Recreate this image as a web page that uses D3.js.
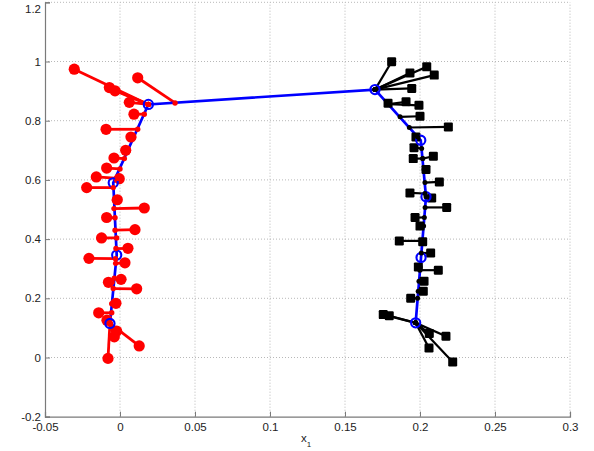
<!DOCTYPE html>
<html><head><meta charset="utf-8">
<script src="https://cdn.jsdelivr.net/npm/d3@7"></script>
<style>body{margin:0;background:#fff;}svg{display:block;}text{font-family:"Liberation Sans",Arial,sans-serif;}</style>
</head><body>
<script>
// Principal curve nodes (blue circles), path order
const nodeX = [-0.0067, -0.0022, -0.0045, 0.0189, 0.1700, 0.2005, 0.2040, 0.2007, 0.1971];
const nodeY = [ 0.115,   0.346,   0.590,  0.855,  0.905,  0.734,  0.543,  0.338,  0.117];

// Red class: data points and their projections on the curve
const redX = [-0.0305,-0.0071,-0.0033,0.0118,0.0062,0.0093,-0.0093,0.0073,0.0038,-0.0040,-0.0089,-0.0158,-0.0005,-0.0222,-0.0018,0.0162,-0.0089,0.0100,-0.0123,0.0053,-0.0207,0.0033,0.0007,-0.0077,0.0111,-0.0027,-0.0142,-0.0087,-0.0022,-0.0038,0.0128,-0.0080];
const redY = [0.974,0.912,0.901,0.945,0.862,0.822,0.771,0.745,0.700,0.674,0.640,0.610,0.604,0.574,0.533,0.505,0.473,0.432,0.404,0.369,0.335,0.320,0.264,0.254,0.232,0.183,0.151,0.126,0.089,0.070,0.039,-0.003];
const redProjX = [0.0189,0.0189,0.0189,0.0367,0.0189,0.0162,0.0118,0.0090,0.0055,0.0029,0.0000,-0.0013,-0.0013,-0.0045,-0.0037,-0.0040,-0.0033,-0.0033,-0.0022,-0.0027,-0.0030,-0.0029,-0.0038,-0.0053,-0.0045,-0.0055,-0.0055,-0.0067,-0.0067,-0.0067,-0.0067,-0.0067];
const redProjY = [0.855,0.855,0.855,0.860,0.855,0.822,0.771,0.743,0.698,0.672,0.637,0.605,0.605,0.574,0.531,0.503,0.472,0.430,0.404,0.368,0.334,0.318,0.268,0.254,0.233,0.182,0.151,0.115,0.115,0.115,0.115,0.115];

// Black class: data points and their projections on the curve
const blackX = [0.1811,0.1933,0.2045,0.2095,0.1945,0.1907,0.1993,0.1787,0.2000,0.2189,0.1973,0.1960,0.1955,0.2089,0.2040,0.2129,0.1933,0.2078,0.2178,0.1967,0.2000,0.1862,0.2018,0.2071,0.1989,0.2122,0.2027,0.2022,0.1938,0.1755,0.1795,0.2062,0.2173,0.2060,0.2218];
const blackY = [0.999,0.961,0.982,0.954,0.909,0.864,0.852,0.859,0.815,0.779,0.745,0.709,0.672,0.680,0.635,0.593,0.556,0.539,0.507,0.473,0.444,0.394,0.391,0.353,0.306,0.295,0.258,0.224,0.200,0.145,0.141,0.081,0.072,0.032,-0.015];
const blackProjX = [0.1700,0.1700,0.1700,0.1700,0.1700,0.1795,0.1795,0.1795,0.1867,0.1929,0.1985,0.2011,0.2018,0.2018,0.2027,0.2033,0.2033,0.2040,0.2034,0.2029,0.2024,0.2016,0.2016,0.2009,0.2001,0.1999,0.1993,0.1988,0.1984,0.1971,0.1971,0.1971,0.1971,0.1971,0.1971];
const blackProjY = [0.905,0.905,0.905,0.905,0.905,0.856,0.856,0.856,0.813,0.777,0.745,0.706,0.672,0.672,0.635,0.591,0.554,0.543,0.507,0.473,0.444,0.394,0.394,0.353,0.306,0.295,0.258,0.224,0.200,0.117,0.117,0.117,0.117,0.117,0.117];

const xTicks = [-0.05,0,0.05,0.1,0.15,0.2,0.25,0.3];
const xTickLabels = ["-0.05","0","0.05","0.1","0.15","0.2","0.25","0.3"];
const yTicks = [-0.2,0,0.2,0.4,0.6,0.8,1,1.2];
const yTickLabels = ["-0.2","0","0.2","0.4","0.6","0.8","1","1.2"];

const W = 594, H = 451;
const L = 45, R = 570, T = 2.3, B = 416.7;
const x = d3.scaleLinear().domain([-0.05,0.3]).range([L,R]);
const y = d3.scaleLinear().domain([-0.2,1.2]).range([B,T]);

const svg = d3.select("body").append("svg").attr("width",W).attr("height",H);

// grid
const g = svg.append("g");
g.selectAll(".gx").data(xTicks.slice(1)).join("line")
  .attr("x1",d=>x(d)).attr("x2",d=>x(d)).attr("y1",B).attr("y2",T)
  .attr("stroke","#b8b8b8").attr("stroke-width",1).attr("stroke-dasharray","1,2");
g.selectAll(".gy").data(yTicks.slice(1)).join("line")
  .attr("x1",L).attr("x2",R).attr("y1",d=>y(d)).attr("y2",d=>y(d))
  .attr("stroke","#b8b8b8").attr("stroke-width",1).attr("stroke-dasharray","1,2");

// axes
const xAxis = d3.axisBottom(x).tickValues(xTicks).tickSize(-5).tickPadding(6.5)
  .tickFormat((d,i)=>xTickLabels[i]);
const yAxis = d3.axisLeft(y).tickValues(yTicks).tickSize(-5).tickPadding(9)
  .tickFormat((d,i)=>yTickLabels[i]);
const ax = svg.append("g").attr("transform",`translate(0,${B})`).call(xAxis);
const ay = svg.append("g").attr("transform",`translate(${L},0)`).call(yAxis);
[ax,ay].forEach(a=>{
  a.select(".domain").attr("stroke","#7a7a7a").attr("stroke-width",1.2);
  a.selectAll(".tick line").attr("stroke","#7a7a7a");
  a.selectAll("text").attr("font-size",11.5).attr("fill","#222").attr("font-family","'Liberation Sans',Arial,sans-serif");
});
ay.selectAll("text").attr("x",-4);
// keep the top label inside the picture
ay.selectAll(".tick").filter(d=>d===1.2).select("text").attr("dy","0.9em");

// x label
const xl = svg.append("text").attr("x",301).attr("y",442).attr("font-size",11.5).attr("fill","#222");
xl.append("tspan").text("x");
xl.append("tspan").attr("font-size",8).attr("dy",5).text("1");

// connection lines
const plot = svg.append("g");
plot.selectAll(".rl").data(redX).join("line")
  .attr("x1",(d,i)=>x(redX[i])).attr("y1",(d,i)=>y(redY[i]))
  .attr("x2",(d,i)=>x(redProjX[i])).attr("y2",(d,i)=>y(redProjY[i]))
  .attr("stroke","#ff0000").attr("stroke-width",2.8);
plot.selectAll(".bl").data(blackX).join("line")
  .attr("x1",(d,i)=>x(blackX[i])).attr("y1",(d,i)=>y(blackY[i]))
  .attr("x2",(d,i)=>x(blackProjX[i])).attr("y2",(d,i)=>y(blackProjY[i]))
  .attr("stroke","#000").attr("stroke-width",2.2);

// curve
const line = d3.line().x(d=>x(d[0])).y(d=>y(d[1]));
plot.append("path").datum(nodeX.map((v,i)=>[v,nodeY[i]])).attr("d",line)
  .attr("fill","none").attr("stroke","#0000ff").attr("stroke-width",2.7);

// markers
plot.selectAll(".rm").data(redX).join("circle")
  .attr("cx",(d,i)=>x(redX[i])).attr("cy",(d,i)=>y(redY[i])).attr("r",5.6).attr("fill","#ff0000");
const s = 9;
plot.selectAll(".bm").data(blackX).join("rect")
  .attr("x",(d,i)=>x(blackX[i])-s/2).attr("y",(d,i)=>y(blackY[i])-s/2)
  .attr("width",s).attr("height",s).attr("rx",1.2).attr("fill","#000");
plot.selectAll(".nc").data(nodeX).join("circle")
  .attr("cx",(d,i)=>x(nodeX[i])).attr("cy",(d,i)=>y(nodeY[i])).attr("r",4.6)
  .attr("fill","none").attr("stroke","#0000ff").attr("stroke-width",2.1);
plot.selectAll(".rp").data(redProjX).join("circle")
  .attr("cx",(d,i)=>x(redProjX[i])).attr("cy",(d,i)=>y(redProjY[i])).attr("r",2.7).attr("fill","#ff0000");
plot.selectAll(".bp").data(blackProjX).join("circle")
  .attr("cx",(d,i)=>x(blackProjX[i])).attr("cy",(d,i)=>y(blackProjY[i])).attr("r",2.5).attr("fill","#000");
</script>
</body></html>
